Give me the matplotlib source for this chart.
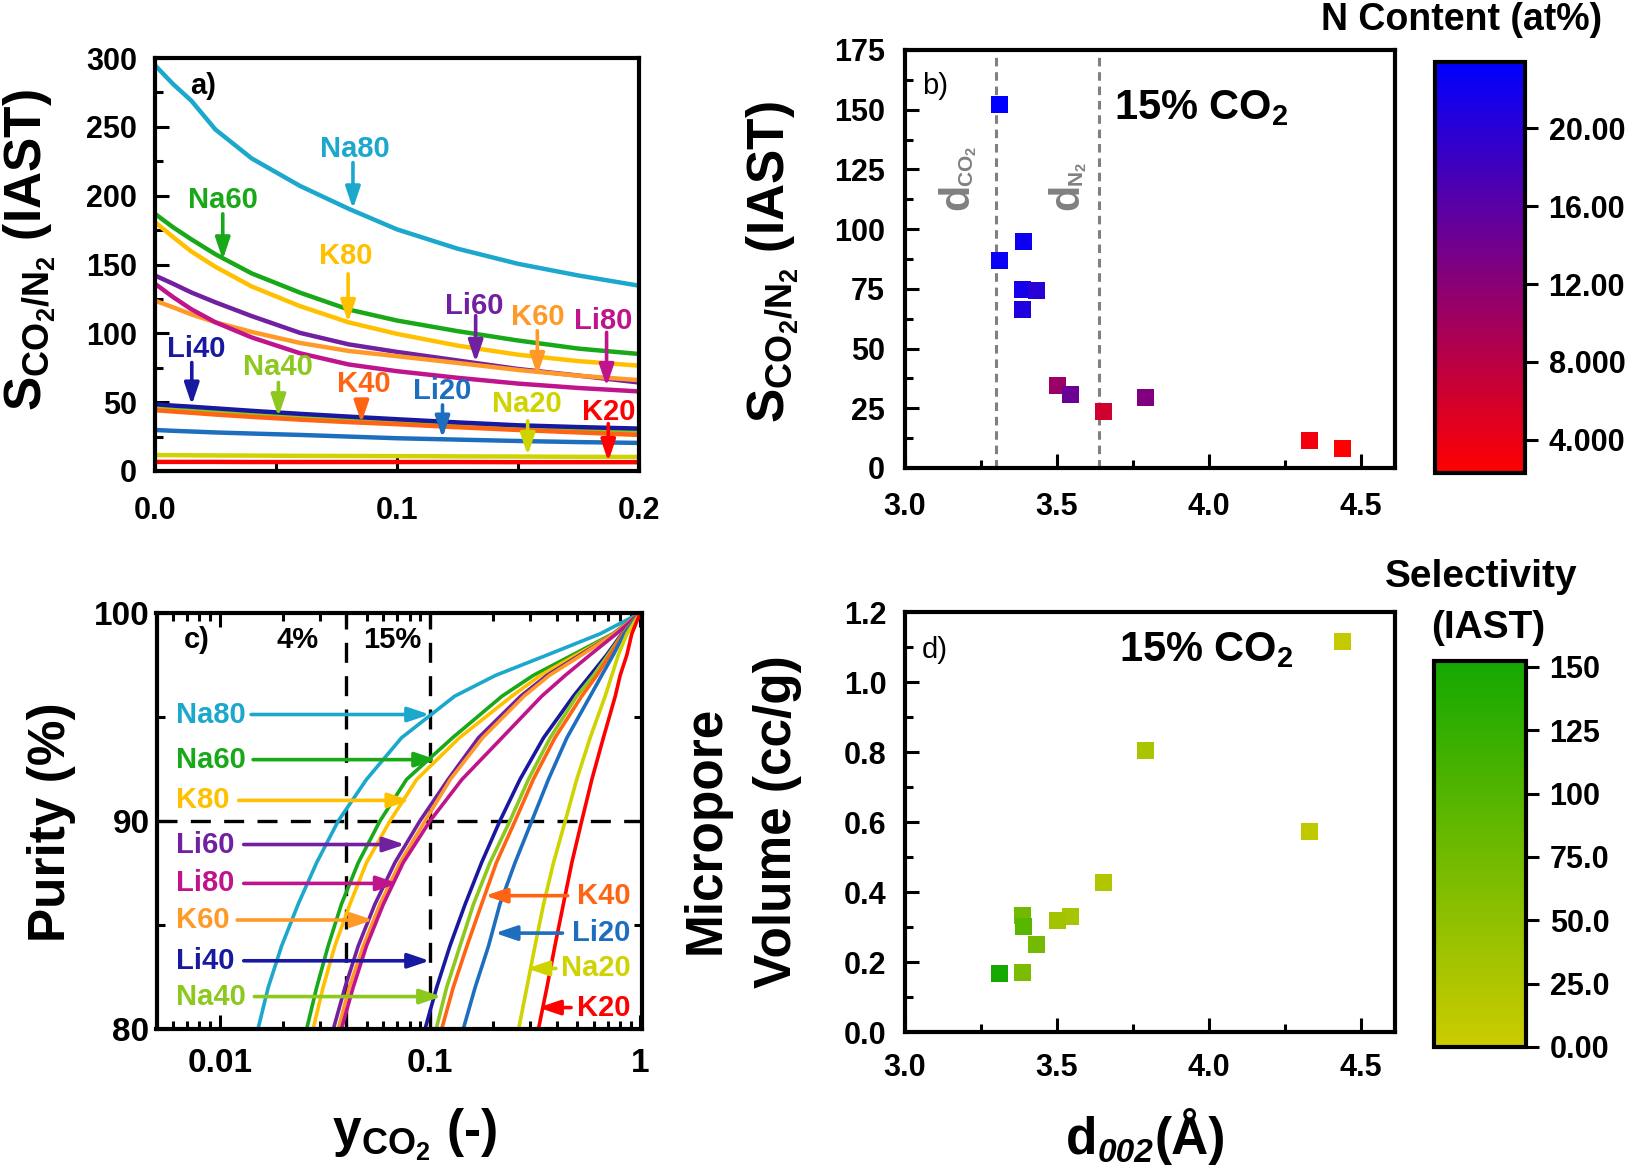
import numpy as np
import matplotlib
matplotlib.use("Agg")
import matplotlib.pyplot as plt
from matplotlib.colors import LinearSegmentedColormap
from matplotlib.ticker import FixedLocator, NullFormatter, LogLocator, FormatStrFormatter

# ---------------- data ----------------
# panel a: IAST selectivity vs CO2 mole fraction
ya_grid = [0, 0.0075, 0.015, 0.025, 0.04, 0.06, 0.08, 0.1, 0.125, 0.15, 0.175, 0.2]
a_Na80 = [294.7, 281, 269, 248, 227, 207, 190.5, 175.5, 161.5, 150.5, 142, 134.6]
a_Na60 = [186.8, 177, 168.3, 157.4, 143.5, 129.5, 117.3, 109.3, 101.6, 94.8, 88.9, 85]
a_K80 = [180.8, 169.9, 159.5, 148.3, 134, 119.7, 108, 99.6, 91.1, 84.5, 79.8, 76.5]
a_Li60 = [142, 136, 129.7, 122.5, 112.5, 100.3, 92, 86.5, 80.3, 74.1, 69.3, 64.3]
a_K60 = [123.7, 118.9, 113.8, 108, 101, 93, 87.2, 83.4, 78.5, 73.4, 69.2, 66]
a_Li80 = [136, 126.3, 117.5, 108, 97, 85.5, 77.4, 72.5, 67.7, 63.5, 60.3, 57.8]
a_Li40 = [48.5, 47.5, 46.7, 45.5, 43.7, 41.5, 39.5, 37.6, 35.3, 33.2, 31.9, 30.8]
a_Na40 = [45.6, 44.6, 43.8, 42.6, 41, 39, 37.2, 35.5, 33.5, 31.6, 30.2, 29]
a_K40 = [44.2, 43.2, 42.3, 41, 39.3, 37.3, 35.5, 34, 31.8, 29.8, 28, 26.2]
a_Li20 = [29.8, 29.2, 28.7, 28, 27.2, 26.2, 25, 23.8, 22.8, 21.8, 21, 20.4]
a_Na20 = [11.6, 11.5, 11.4, 11.3, 11.2, 11.0, 10.9, 10.8, 10.6, 10.5, 10.3, 10.2]
a_K20 = [6.6, 6.6, 6.6, 6.6, 6.5, 6.5, 6.5, 6.5, 6.5, 6.4, 6.4, 6.4]

# panel b / d: samples
d002 = [3.312, 3.312, 3.392, 3.387, 3.434, 3.389, 3.503, 3.547, 3.793, 3.655, 4.331, 4.439]
selectivity = [152.3, 86.8, 94.8, 74.6, 74.2, 66.2, 34.7, 30.8, 29.7, 23.8, 11.5, 8.1]
n_content = [23.4, 22.5, 22.3, 21.6, 20.0, 20.6, 10.7, 14.6, 12.8, 6.2, 3.4, 2.3]
micropore = [0.168, 0.168, 0.301, 0.332, 0.250, 0.171, 0.318, 0.331, 0.803, 0.428, 0.573, 1.117]
d_co2, d_n2 = 3.30, 3.64
cb_b_ticks = [4, 8, 12, 16, 20]
cb_b_labels = ["4.000", "8.000", "12.00", "16.00", "20.00"]
cb_d_ticks = [0, 25, 50, 75, 100, 125, 150]
cb_d_labels = ["0.00", "25.0", "50.0", "75.0", "100", "125", "150"]

# panel c: purity vs CO2 feed fraction
purity_levels = [80, 82, 84, 86, 88, 90, 92, 94, 96, 97, 98, 99, 100]
c_Na80 = [0.0152, 0.0170, 0.0197, 0.0236, 0.0289, 0.0366, 0.0499, 0.0732, 0.131, 0.205, 0.365, 0.645, 1.0]
c_Na60 = [0.0259, 0.0289, 0.0328, 0.0379, 0.0456, 0.0578, 0.0774, 0.128, 0.22, 0.31, 0.48, 0.74, 1.0]
c_K80 = [0.0278, 0.0310, 0.0353, 0.0416, 0.0499, 0.0645, 0.0865, 0.138, 0.245, 0.335, 0.50, 0.75, 1.0]
c_Li60 = [0.0347, 0.0394, 0.0456, 0.0547, 0.0681, 0.0895, 0.122, 0.170, 0.27, 0.36, 0.52, 0.75, 1.0]
c_Li80 = [0.0379, 0.0431, 0.0499, 0.0600, 0.0746, 0.100, 0.142, 0.22, 0.34, 0.44, 0.58, 0.77, 1.0]
c_K60 = [0.0366, 0.0413, 0.0482, 0.0578, 0.072, 0.0947, 0.125, 0.178, 0.28, 0.37, 0.53, 0.75, 1.0]
c_Li40 = [0.0947, 0.1076, 0.1245, 0.147, 0.176, 0.215, 0.268, 0.347, 0.481, 0.578, 0.694, 0.818, 1.0]
c_Na40 = [0.107, 0.120, 0.139, 0.161, 0.193, 0.240, 0.294, 0.373, 0.499, 0.600, 0.706, 0.825, 1.0]
c_K40 = [0.1137, 0.129, 0.150, 0.176, 0.207, 0.254, 0.310, 0.393, 0.527, 0.622, 0.719, 0.828, 1.0]
c_Li20 = [0.144, 0.164, 0.190, 0.215, 0.254, 0.305, 0.366, 0.448, 0.578, 0.656, 0.746, 0.839, 1.0]
c_Na20 = [0.264, 0.289, 0.316, 0.347, 0.387, 0.440, 0.499, 0.578, 0.681, 0.733, 0.788, 0.865, 1.0]
c_K20 = [0.328, 0.360, 0.393, 0.431, 0.473, 0.527, 0.589, 0.668, 0.761, 0.803, 0.865, 0.912, 1.0]

colors = {
    "Na80": "#1ba8cc", "Na60": "#18a818", "K80": "#ffc000", "Li60": "#7020a0",
    "K60": "#ff9a28", "Li80": "#c0148c", "Li40": "#1818a0", "Na40": "#8cc81e",
    "K40": "#ff6414", "Li20": "#1e6ec0", "Na20": "#cfd300", "K20": "#ff0000",
}
curves_a = {"Na80": a_Na80, "Na60": a_Na60, "K80": a_K80, "Li60": a_Li60, "K60": a_K60,
            "Li80": a_Li80, "Na40": a_Na40, "Li40": a_Li40, "K40": a_K40, "Li20": a_Li20,
            "Na20": a_Na20, "K20": a_K20}
curves_c = {"Na80": c_Na80, "Na60": c_Na60, "K80": c_K80, "Li60": c_Li60, "K60": c_K60,
            "Li80": c_Li80, "Li40": c_Li40, "Na40": c_Na40, "K40": c_K40, "Li20": c_Li20,
            "Na20": c_Na20, "K20": c_K20}

# ---------------- style ----------------
plt.rcParams.update({
    "font.family": ["Liberation Sans", "DejaVu Sans"],
    "font.weight": "bold",
    "mathtext.fontset": "custom",
    "mathtext.rm": "Liberation Sans",
    "mathtext.bf": "Liberation Sans:bold",
    "mathtext.it": "Liberation Sans:italic:bold",
    "axes.linewidth": 3,
})

W, H = 1638, 1168
TICK_FS = 22
LAB_FS = 21
fig = plt.figure(figsize=(W / 100, H / 100), dpi=100)


def fax(l, t, r, b):
    return fig.add_axes([l / W, 1 - b / H, (r - l) / W, (b - t) / H])


def style(ax, xpad, ypad, top=False, right=False, fs=TICK_FS):
    ax.tick_params(which="both", direction="in", top=top, right=right,
                   width=2.2, labelsize=fs)
    ax.tick_params(which="major", length=10)
    ax.tick_params(which="minor", length=6)
    ax.tick_params(axis="x", pad=xpad)
    ax.tick_params(axis="y", pad=ypad)


ARW = "-|>,head_length=0.65,head_width=0.22"


def arrow(ax, xy_from, xy_to, c):
    ax.annotate("", xy=xy_to, xytext=xy_from,
                arrowprops=dict(arrowstyle=ARW, color=c, lw=2.6, shrinkA=0, shrinkB=0,
                                mutation_scale=20))


ax_a = fax(155, 58, 639, 471)
ax_b = fax(904.5, 50, 1394.5, 468)
cax_b = fax(1435, 62, 1525, 473)
ax_c = fax(156.5, 613, 642, 1029)
ax_d = fax(904.5, 612, 1394.5, 1032)
cax_d = fax(1434, 661, 1526, 1047)

# ---------------- panel a ----------------
for name, vals in curves_a.items():
    ax_a.plot(ya_grid, vals, color=colors[name], lw=3.2, solid_capstyle="butt")
ax_a.set_xlim(0, 0.2)
ax_a.set_ylim(0, 300)
ax_a.xaxis.set_major_locator(FixedLocator([0, 0.1, 0.2]))
ax_a.xaxis.set_minor_locator(FixedLocator([0.05, 0.15]))
ax_a.xaxis.set_major_formatter(FormatStrFormatter("%.1f"))
ax_a.yaxis.set_major_locator(FixedLocator(list(range(0, 301, 50))))
ax_a.yaxis.set_minor_locator(FixedLocator(list(range(25, 300, 50))))
style(ax_a, 18, 13)

labels_a = [  # name, text x, text y, arrow x, arrow start y, arrow tip y
    ("Na80", 0.0824, 234, 0.0818, 224, 190.5),
    ("Na60", 0.028, 196.5, 0.028, 186.8, 153.5),
    ("K80", 0.0789, 156.5, 0.0798, 143.2, 108),
    ("Li60", 0.132, 120, 0.1325, 112.8, 79),
    ("K60", 0.158, 112, 0.158, 101.9, 69.5),
    ("Li80", 0.185, 109, 0.1866, 100.7, 61.5),
    ("Li40", 0.0172, 88.6, 0.0152, 78.8, 48),
    ("Na40", 0.051, 75.2, 0.051, 64.3, 39.5),
    ("K40", 0.0861, 63.1, 0.0853, 51, 35),
    ("Li20", 0.1185, 58.2, 0.1188, 48, 24),
    ("Na20", 0.1536, 48.5, 0.154, 36.4, 11.4),
    ("K20", 0.1873, 42.5, 0.1873, 34.4, 6.9),
]
for name, tx, ty, ax_x, y0, y1 in labels_a:
    ax_a.text(tx, ty, name, color=colors[name], fontsize=LAB_FS, ha="center", va="center")
    arrow(ax_a, (ax_x, y0), (ax_x, y1), colors[name])
ax_a.text(0.0199, 280, "a)", fontsize=21, ha="center", va="center")

fig.text(30 / W, 1 - 250 / H, r"S$_{\mathrm{CO_2/N_2}}$ (IAST)", rotation=90,
         ha="center", va="center", fontsize=37)

# ---------------- panel b ----------------
cmap_n = LinearSegmentedColormap.from_list("ncont", ["#ff0000", "#0000ff"])
for xv in (d_co2, d_n2):
    ax_b.axvline(xv, color="#808080", lw=2.2, dashes=(2.8, 1.9), zorder=1)
sc_b = ax_b.scatter(d002, selectivity, c=n_content, cmap=cmap_n, marker="s", s=150,
                    edgecolors="none", zorder=3)
ax_b.set_xlim(3.0, 4.61)
ax_b.set_ylim(0, 175)
ax_b.xaxis.set_major_locator(FixedLocator([3.0, 3.5, 4.0, 4.5]))
ax_b.xaxis.set_minor_locator(FixedLocator([3.25, 3.75, 4.25]))
ax_b.xaxis.set_major_formatter(FormatStrFormatter("%.1f"))
ax_b.yaxis.set_major_locator(FixedLocator(list(range(0, 176, 25))))
ax_b.yaxis.set_minor_locator(FixedLocator([12.5 + 25 * i for i in range(7)]))
style(ax_b, 17, 14)
ax_b.text(3.10, 160, "b)", fontsize=21, fontweight="normal", ha="center", va="center")
ax_b.text(3.69, 150.5, r"15% CO$_\mathregular{2}$", fontsize=30, ha="left", va="center")

GRAY = "#808080"
for xd, xs, sub in ((3.2085, 3.226, r"CO$_\mathregular{2}$"),
                    (3.5705, 3.588, r"N$_\mathregular{2}$")):
    ax_b.text(xd, 108, "d", rotation=90, rotation_mode="anchor", color=GRAY,
              fontsize=31, ha="left", va="baseline")
    ax_b.text(xs, 117.8, sub, rotation=90, rotation_mode="anchor", color=GRAY,
              fontsize=15, ha="left", va="baseline")
fig.text(773 / W, 1 - 262 / H, r"S$_{\mathrm{CO_2/N_2}}$ (IAST)", rotation=90,
         ha="center", va="center", fontsize=37)

cb_b = fig.colorbar(sc_b, cax=cax_b)
cb_b.outline.set_linewidth(3)
cb_b.set_ticks(cb_b_ticks)
cb_b.set_ticklabels(cb_b_labels)
cb_b.minorticks_off()
cax_b.tick_params(direction="out", length=9, width=2.2, labelsize=TICK_FS, pad=8)
fig.text(1462 / W, 1 - 20 / H, "N Content (at%)", ha="center", va="center", fontsize=27)

# ---------------- panel c ----------------
for name, vals in curves_c.items():
    ax_c.plot(vals, purity_levels, color=colors[name], lw=2.6)
ax_c.set_xscale("log")
ax_c.set_xlim(0.005, 1.02)
ax_c.set_ylim(80, 100)
for xv in (0.04, 0.1):
    ax_c.axvline(xv, color="k", lw=2.4, dashes=(6, 4), zorder=0.5)
ax_c.axhline(90, color="k", lw=2.4, dashes=(6, 4), zorder=0.5)
ax_c.xaxis.set_major_locator(FixedLocator([0.01, 0.1, 1]))
ax_c.set_xticklabels(["0.01", "0.1", "1"])
ax_c.xaxis.set_minor_locator(LogLocator(base=10, subs=np.arange(2, 10)))
ax_c.xaxis.set_minor_formatter(NullFormatter())
ax_c.yaxis.set_major_locator(FixedLocator([80, 90, 100]))
ax_c.yaxis.set_minor_locator(FixedLocator([85, 95]))
style(ax_c, 14, 5, top=True, right=True, fs=24)

ax_c.text(0.00774, 98.7, "c)", fontsize=21, ha="center", va="center")
ax_c.text(0.0235, 98.7, "4%", fontsize=21, ha="center", va="center")
ax_c.text(0.0658, 98.7, "15%", fontsize=21, ha="center", va="center")

labels_c_left = [  # name, purity, arrow start x, arrow tip x
    ("Na80", 95.12, 0.0141, 0.0996),
    ("Na60", 92.95, 0.0144, 0.1076),
    ("K80", 90.99, 0.0123, 0.0803),
    ("Li60", 88.87, 0.0130, 0.0760),
    ("Li80", 87.0, 0.0130, 0.0706),
    ("K60", 85.24, 0.0121, 0.0537),
    ("Li40", 83.28, 0.0130, 0.0996),
    ("Na40", 81.56, 0.0146, 0.1135),
]
for name, p, x0, x1 in labels_c_left:
    ax_c.text(0.0062, p, name, color=colors[name], fontsize=LAB_FS, ha="left", va="center")
    arrow(ax_c, (x0, p), (x1, p), colors[name])
labels_c_right = [
    ("K40", 86.41, 0.452, 0.183),
    ("Li20", 84.61, 0.427, 0.204),
    ("Na20", 82.91, 0.397, 0.289),
    ("K20", 81.03, 0.469, 0.328),
]
for name, p, x0, x1 in labels_c_right:
    ax_c.text(0.897, p, name, color=colors[name], fontsize=LAB_FS, ha="right", va="center")
    arrow(ax_c, (x0, p), (x1, p), colors[name])

fig.text(52 / W, 1 - 822 / H, "Purity (%)", rotation=90, ha="center", va="center",
         fontsize=37)
fig.text(414 / W, 1 - 1147 / H, r"y$_{\mathrm{CO_2}}$ (-)", ha="center", va="baseline",
         fontsize=37)

# ---------------- panel d ----------------
cmap_s = LinearSegmentedColormap.from_list("sel", ["#cccc00", "#14a800"])
order = np.argsort(selectivity)
sc_d = ax_d.scatter(np.asarray(d002)[order], np.asarray(micropore)[order],
                    c=np.asarray(selectivity)[order], cmap=cmap_s, vmin=0,
                    vmax=max(selectivity), marker="s", s=150, edgecolors="none", zorder=3)
ax_d.set_xlim(3.0, 4.61)
ax_d.set_ylim(0, 1.2)
ax_d.xaxis.set_major_locator(FixedLocator([3.0, 3.5, 4.0, 4.5]))
ax_d.xaxis.set_minor_locator(FixedLocator([3.25, 3.75, 4.25]))
ax_d.xaxis.set_major_formatter(FormatStrFormatter("%.1f"))
ax_d.yaxis.set_major_locator(FixedLocator([0, 0.2, 0.4, 0.6, 0.8, 1.0, 1.2]))
ax_d.yaxis.set_minor_locator(FixedLocator([0.1, 0.3, 0.5, 0.7, 0.9, 1.1]))
ax_d.yaxis.set_major_formatter(FormatStrFormatter("%.1f"))
style(ax_d, 15, 13)
ax_d.text(3.10, 1.092, "d)", fontsize=21, fontweight="normal", ha="center", va="center")
ax_d.text(3.704, 1.091, r"15% CO$_\mathregular{2}$", fontsize=30, ha="left", va="center")

fig.text(706 / W, 1 - 830 / H, "Micropore", rotation=90, ha="center", va="center",
         fontsize=37)
fig.text(778 / W, 1 - 822 / H, "Volume (cc/g)", rotation=90, ha="center", va="center",
         fontsize=37)
t_d = fig.text(1066 / W, 1 - 1154 / H, "d", ha="left", va="baseline", fontsize=37)
t_sub = ax_d.annotate("002", xy=(1, 0), xycoords=t_d, xytext=(0.5, 2.5),
                      textcoords="offset points", fontsize=24, fontstyle="italic",
                      ha="left", va="baseline", annotation_clip=False)
ax_d.annotate("(Å)", xy=(1, 0), xycoords=(t_sub, t_d), xytext=(0.5, 0),
              textcoords="offset points", fontsize=37, ha="left", va="bottom",
              annotation_clip=False)

cb_d = fig.colorbar(sc_d, cax=cax_d)
cb_d.outline.set_linewidth(3)
cb_d.set_ticks(cb_d_ticks)
cb_d.set_ticklabels(cb_d_labels)
cb_d.minorticks_off()
cax_d.tick_params(direction="out", length=9, width=2.2, labelsize=TICK_FS, pad=8)
fig.text(1481 / W, 1 - 577 / H, "Selectivity", ha="center", va="center", fontsize=28)
fig.text(1488 / W, 1 - 628 / H, "(IAST)", ha="center", va="center", fontsize=28)

fig.savefig("out.png", dpi=100)
